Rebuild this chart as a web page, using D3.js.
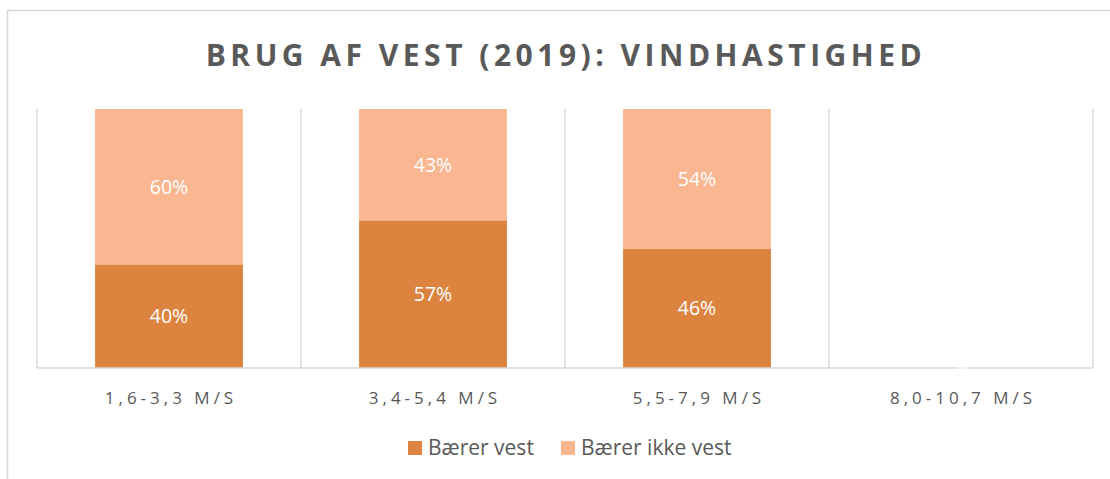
<!DOCTYPE html>
<html>
<head>
    <title>Brug af vest (2019): vindhastighed</title>
    <script src="https://cdnjs.cloudflare.com/ajax/libs/d3/7.8.5/d3.min.js"></script>
    <style>
        body {
            margin: 0;
            background: white;
            font-family: "Open Sans", sans-serif;
        }
        .title {
            font-size: 30px;
            font-weight: bold;
            fill: #595959;
            letter-spacing: 4.5px;
        }
        .cat-label {
            font-size: 17px;
            fill: #595959;
            letter-spacing: 4px;
        }
        .value-label {
            font-size: 19.5px;
            fill: white;
        }
        .legend-label {
            font-size: 21px;
            fill: #595959;
        }
    </style>
</head>
<body>
    <div id="chart"></div>
    <script>
        const categories = ["1,6-3,3 M/S", "3,4-5,4 M/S", "5,5-7,9 M/S", "8,0-10,7 M/S"];
        const baererVest = [40, 57, 46, 0];
        const baererIkkeVest = [60, 43, 54, 0];
        const seriesNames = ["Bærer vest", "Bærer ikke vest"];
        const colors = ["#DC843F", "#F9B690"];

        const W = 1110, H = 479;
        const plot = { left: 37, right: 1093, top: 109, bottom: 368 };

        const svg = d3.select("#chart").append("svg")
            .attr("width", W)
            .attr("height", H);

        // chart frame
        svg.append("rect")
            .attr("x", 7.5).attr("y", 10.5)
            .attr("width", W + 20).attr("height", H + 20)
            .attr("fill", "none")
            .attr("stroke", "#d9d9d9")
            .attr("stroke-width", 1.5);

        svg.append("text")
            .attr("class", "title")
            .attr("x", 566)
            .attr("y", 66)
            .attr("text-anchor", "middle")
            .text("BRUG AF VEST (2019): VINDHASTIGHED");

        const x = d3.scaleBand()
            .domain(categories)
            .range([plot.left, plot.right])
            .paddingInner(0)
            .paddingOuter(0);

        const y = d3.scaleLinear()
            .domain([0, 100])
            .range([plot.bottom, plot.top]);

        const barW = x.bandwidth() * 0.56;

        // vertical gridlines at category boundaries
        const bounds = categories.map(c => x(c)).concat([plot.right]);
        svg.append("g").selectAll("line")
            .data(bounds)
            .join("line")
            .attr("x1", d => d).attr("x2", d => d)
            .attr("y1", plot.top).attr("y2", plot.bottom)
            .attr("stroke", "#d9d9d9")
            .attr("stroke-width", 1.5);

        const table = categories.map((c, i) => ({
            cat: c,
            [seriesNames[0]]: baererVest[i],
            [seriesNames[1]]: baererIkkeVest[i]
        }));
        const stacked = d3.stack().keys(seriesNames)(table);

        const layers = svg.append("g").selectAll("g")
            .data(stacked)
            .join("g")
            .attr("fill", (d, i) => colors[i]);

        layers.selectAll("rect")
            .data(d => d)
            .join("rect")
            .attr("x", d => x(d.data.cat) + (x.bandwidth() - barW) / 2)
            .attr("y", d => y(d[1]))
            .attr("width", barW)
            .attr("height", d => y(d[0]) - y(d[1]));

        // x axis line
        svg.append("line")
            .attr("x1", plot.left).attr("x2", plot.right)
            .attr("y1", plot.bottom).attr("y2", plot.bottom)
            .attr("stroke", "#d9d9d9")
            .attr("stroke-width", 1.5);

        // value labels
        stacked.forEach(layer => {
            svg.append("g").selectAll("text")
                .data(layer)
                .join("text")
                .attr("class", "value-label")
                .attr("x", d => x(d.data.cat) + x.bandwidth() / 2)
                .attr("y", d => (y(d[0]) + y(d[1])) / 2)
                .attr("dy", "0.35em")
                .attr("text-anchor", "middle")
                .style("font-size", d => (d[1] - d[0]) === 0 ? "8px" : null)
                .text(d => Math.round(d[1] - d[0]) + "%");
        });

        // category labels
        svg.append("g").selectAll("text")
            .data(categories)
            .join("text")
            .attr("class", "cat-label")
            .attr("x", d => x(d) + x.bandwidth() / 2 + 2)
            .attr("y", 404)
            .attr("text-anchor", "middle")
            .text(d => d);

        // legend
        const legend = svg.append("g");
        const legendX = [408, 561];
        seriesNames.forEach((name, i) => {
            legend.append("rect")
                .attr("x", legendX[i]).attr("y", 441)
                .attr("width", 14).attr("height", 14)
                .attr("fill", colors[i]);
            legend.append("text")
                .attr("class", "legend-label")
                .attr("x", legendX[i] + 20)
                .attr("y", 455)
                .text(name);
        });
    </script>
</body>
</html>
